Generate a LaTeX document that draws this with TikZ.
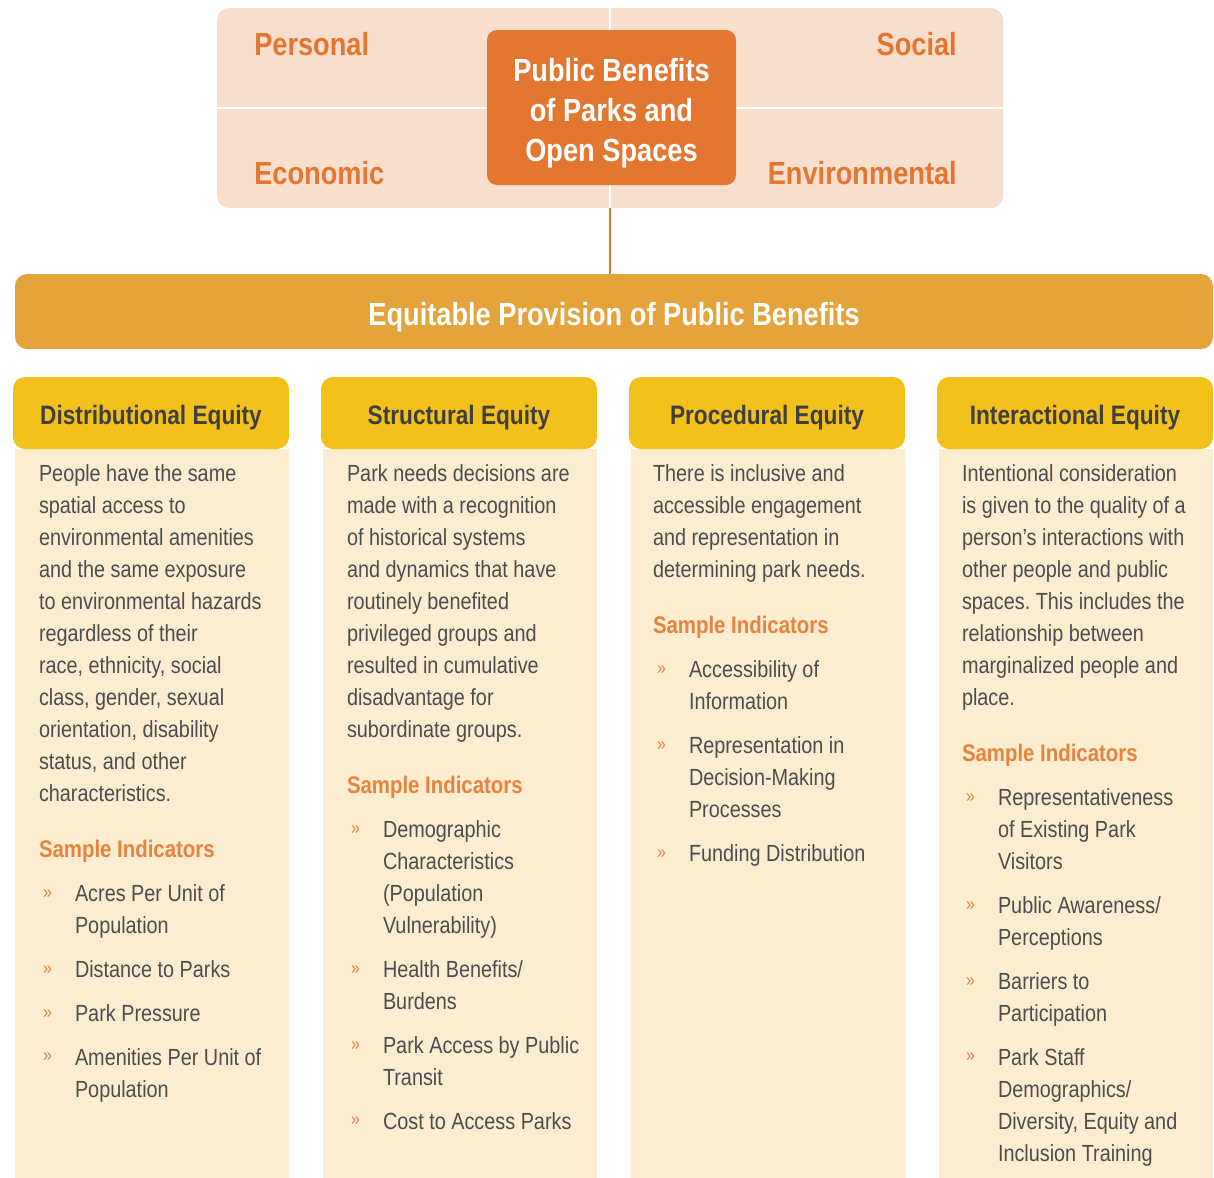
\documentclass[tikz,border=0pt]{standalone}
\usepackage{fontspec}
\setmainfont[FakeStretch=0.85]{Liberation Sans}
\usetikzlibrary{positioning}
\frenchspacing

\definecolor{fieldbg}{HTML}{F7DECD}
\definecolor{coreorange}{HTML}{E37731}
\definecolor{barorange}{HTML}{E5A33B}
\definecolor{headyellow}{HTML}{F2C11C}
\definecolor{cellbg}{HTML}{FCEDD0}
\definecolor{headtext}{HTML}{3F3F3F}
\definecolor{bodytext}{HTML}{4D4D4D}
\definecolor{sampleorange}{HTML}{E8823C}

\newcommand\bodyfont{\fontsize{17.5}{24}\selectfont}
\newcommand\headfont{\fontsize{20}{24}\selectfont\bfseries}
\newcommand\samplefont{\fontsize{18}{24}\selectfont\bfseries}
\newcommand\labelfont{\fontsize{24}{30}\selectfont\bfseries}

\tikzset{
  fieldbox/.style={fill=fieldbg, rounded corners=9pt, minimum width=589.5pt, minimum height=150pt, inner sep=0pt},
  corebox/.style={fill=coreorange, rounded corners=7.5pt, minimum width=186.75pt, minimum height=116.25pt, inner sep=0pt},
  coretext/.style={text=white, font=\labelfont, align=center, inner sep=0pt},
  sector/.style={text=coreorange, font=\labelfont, inner sep=0pt},
  mainbar/.style={fill=barorange, rounded corners=9pt, text=white, font=\labelfont,
    minimum width=898.5pt, minimum height=56.25pt, text height=21pt, text depth=0pt},
  colhead/.style={fill=headyellow, rounded corners=9pt, text=headtext, font=\headfont,
    minimum width=207pt, minimum height=54pt, text height=17.4pt, text depth=0pt},
  para/.style={text=bodytext, font=\bodyfont, align=left, inner sep=0pt,
    execute at begin node=\strut, text depth=7.2pt},
  sampletitle/.style={para, text=sampleorange, font=\samplefont},
  entry/.style={para},
  chev/.style={para, text=sampleorange, font=\fontsize{14}{24}\selectfont},
  connector/.style={draw=coreorange, line width=1.5pt}
}

\begin{document}
\begin{tikzpicture}[x=0.75pt, y=-0.75pt]
\useasboundingbox (0,0) rectangle (1214,1178);

% benefits field
\node[fieldbox] (bens) at (610,108) {};
\draw[white, line width=1.5pt] (bens.west) -- (bens.east);
\draw[white, line width=1.5pt] (bens.north) -- (bens.south);
\node[corebox] (core) at (611.5,107.5) {};
\node[coretext] (core-t) at ([yshift=-4.5pt]core.center) {Public Benefits\\of Parks and\\Open Spaces};
\node[sector, anchor=west] (pers) at (254,44) {Personal};
\node[sector, anchor=east] (soc) at (957,44) {Social};
\node[sector, anchor=west] (econ) at (254,173) {Economic};
\node[sector, anchor=east] (env) at (957,173) {Environmental};

% equitable provision
\node[mainbar] (equit) at (614,311.5) {Equitable Provision of Public Benefits};
\draw[connector] (bens.south) -- (bens.south |- equit.north);

% columns
\foreach \cx/\nm/\ttl in {151/dist/Distributional Equity, 459/struc/Structural Equity,
    767/proc/Procedural Equity, 1075/inter/Interactional Equity} {
  \fill[cellbg] (\cx-136,449) rectangle (\cx+138,1178);
  \node[colhead] (\nm) at (\cx,413) {\ttl};
}

% distributional
\node[para, anchor=north west] (dist-p) at ([xshift=19.5pt, yshift=-7pt]dist.south west)
  {\strut People have the same\\spatial access to\\environmental amenities\\and the same exposure\\to environmental hazards\\regardless of their\\race, ethnicity, social\\class, gender, sexual\\orientation, disability\\status, and other\\characteristics.};
\node[sampletitle, below right=18pt and 0pt of dist-p.south west] (dist-s) {Sample Indicators};
\node[entry, below right=8.5pt and 27pt of dist-s.south west] (dist-i1) {\strut Acres Per Unit of\\Population};
\node[entry, below right=8.5pt and 0pt of dist-i1.south west] (dist-i2) {Distance to Parks};
\node[entry, below right=8.5pt and 0pt of dist-i2.south west] (dist-i3) {Park Pressure};
\node[entry, below right=8.5pt and 0pt of dist-i3.south west] (dist-i4) {\strut Amenities Per Unit of\\Population};

% structural
\node[para, anchor=north west] (struc-p) at ([xshift=19.5pt, yshift=-7pt]struc.south west)
  {\strut Park needs decisions are\\made with a recognition\\of historical systems\\and dynamics that have\\routinely benefited\\privileged groups and\\resulted in cumulative\\disadvantage for\\subordinate groups.};
\node[sampletitle, below right=18pt and 0pt of struc-p.south west] (struc-s) {Sample Indicators};
\node[entry, below right=8.5pt and 27pt of struc-s.south west] (struc-i1) {\strut Demographic\\Characteristics\\(Population\\Vulnerability)};
\node[entry, below right=8.5pt and 0pt of struc-i1.south west] (struc-i2) {\strut Health Benefits/\\Burdens};
\node[entry, below right=8.5pt and 0pt of struc-i2.south west] (struc-i3) {\strut Park Access by Public\\Transit};
\node[entry, below right=8.5pt and 0pt of struc-i3.south west] (struc-i4) {Cost to Access Parks};

% procedural
\node[para, anchor=north west] (proc-p) at ([xshift=18pt, yshift=-7pt]proc.south west)
  {\strut There is inclusive and\\accessible engagement\\and representation in\\determining park needs.};
\node[sampletitle, below right=18pt and 0pt of proc-p.south west] (proc-s) {Sample Indicators};
\node[entry, below right=8.5pt and 27pt of proc-s.south west] (proc-i1) {\strut Accessibility of\\Information};
\node[entry, below right=8.5pt and 0pt of proc-i1.south west] (proc-i2) {\strut Representation in\\Decision-Making\\Processes};
\node[entry, below right=8.5pt and 0pt of proc-i2.south west] (proc-i3) {Funding Distribution};

% interactional
\node[para, anchor=north west] (inter-p) at ([xshift=18.75pt, yshift=-7pt]inter.south west)
  {\strut Intentional consideration\\is given to the quality of a\\person’s interactions with\\other people and public\\spaces. This includes the\\relationship between\\marginalized people and\\place.};
\node[sampletitle, below right=18pt and 0pt of inter-p.south west] (inter-s) {Sample Indicators};
\node[entry, below right=8.5pt and 27pt of inter-s.south west] (inter-i1) {\strut Representativeness\\of Existing Park\\Visitors};
\node[entry, below right=8.5pt and 0pt of inter-i1.south west] (inter-i2) {\strut Public Awareness/\\Perceptions};
\node[entry, below right=8.5pt and 0pt of inter-i2.south west] (inter-i3) {\strut Barriers to\\Participation};
\node[entry, below right=8.5pt and 0pt of inter-i3.south west] (inter-i4) {\strut Park Staff\\Demographics/\\Diversity, Equity and\\Inclusion Training};

% bullets
\foreach \it in {dist-i1,dist-i2,dist-i3,dist-i4,struc-i1,struc-i2,struc-i3,struc-i4,
    proc-i1,proc-i2,proc-i3,inter-i1,inter-i2,inter-i3,inter-i4}
  \node[chev, anchor=north west] (\it-b) at ([xshift=-24pt, yshift=2.5pt]\it.north west) {»};
\end{tikzpicture}
\end{document}
